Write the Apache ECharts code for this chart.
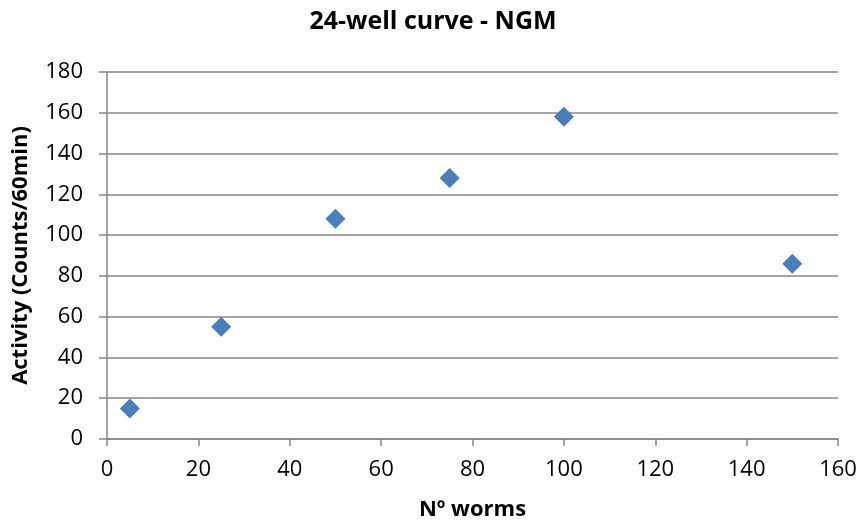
<!DOCTYPE html>
<html><head><meta charset="utf-8">
<script src="https://cdn.jsdelivr.net/npm/echarts@6/dist/echarts.min.js"></script>
<style>html,body{margin:0;padding:0;background:#fff}#c{width:866px;height:526px}</style>
</head><body><div id="c"></div>
<script>
const wormCounts = [5, 25, 50, 75, 100, 150];
const activity = [15, 55, 108, 128, 158, 86];
const titleText = '24-well curve - NGM';
const xName = 'Nº worms';
const yName = 'Activity (Counts/60min)';

const chart = echarts.init(document.getElementById('c'));
const font = 'Open Sans';
chart.setOption({
  animation: false,
  backgroundColor: '#fff',
  title: {text: titleText, left: 'center', top: 4,
    textStyle: {fontFamily: font, fontWeight: 'bold', fontSize: 25, color: '#000'}},
  grid: {left: 107, right: 28, top: 72, bottom: 84},
  xAxis: {type: 'value', min: 0, max: 160, interval: 20,
    name: xName, nameLocation: 'middle', nameGap: 60,
    nameTextStyle: {fontFamily: font, fontWeight: 'bold', fontSize: 22, color: '#000'},
    axisLine: {show: true, lineStyle: {color: '#868686', width: 1.5}},
    axisTick: {show: true, length: 7, lineStyle: {color: '#868686', width: 1.5}},
    axisLabel: {fontFamily: font, fontSize: 22, color: '#000', margin: 20},
    splitLine: {show: false}},
  yAxis: {type: 'value', min: 0, max: 180, interval: 20,
    name: yName, nameLocation: 'middle', nameGap: 75, nameRotate: 90,
    nameTextStyle: {fontFamily: font, fontWeight: 'bold', fontSize: 22, color: '#000'},
    axisLine: {show: true, lineStyle: {color: '#868686', width: 1.5}},
    axisTick: {show: true, length: 8, lineStyle: {color: '#868686', width: 1.5}},
    axisLabel: {fontFamily: font, fontSize: 22, color: '#000', margin: 24},
    splitLine: {show: true, lineStyle: {color: '#868686', width: 1.5}}},
  series: [{type: 'scatter', symbol: 'diamond', symbolSize: [20, 20],
    itemStyle: {color: '#4a7ebb', opacity: 1},
    data: wormCounts.map((x, i) => [x, activity[i]])}]
});
</script></body></html>
